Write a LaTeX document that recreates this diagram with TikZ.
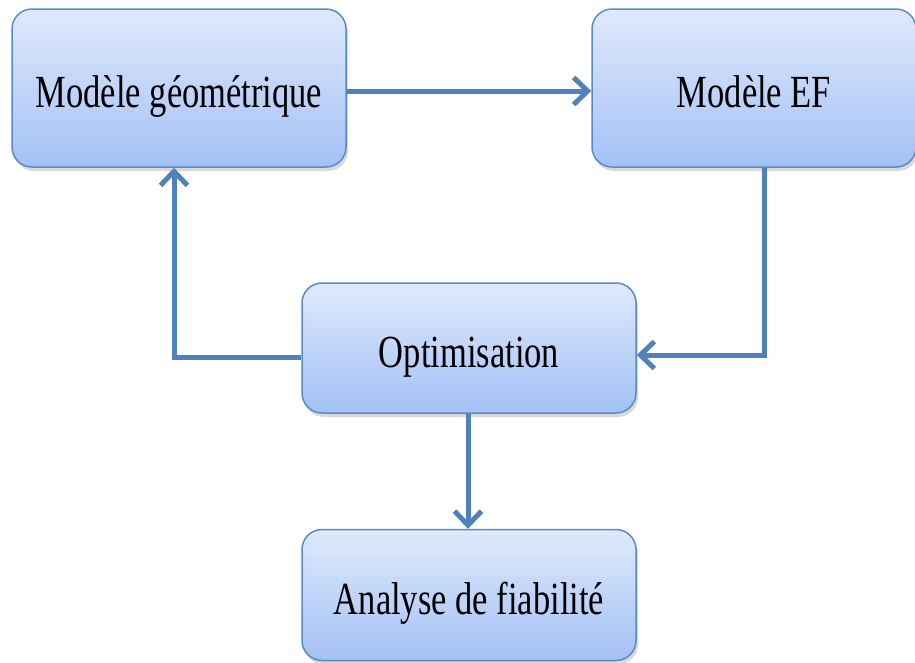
\documentclass[tikz,border=0pt]{standalone}
\usepackage{fontspec}
\newfontfamily\boxfont[FakeStretch=0.75]{Liberation Serif}
\usetikzlibrary{arrows.meta,shadows}
\definecolor{boxtop}{HTML}{DFE9FC}
\definecolor{boxbottom}{HTML}{A3C1F5}
\definecolor{boxline}{HTML}{5B8BC7}
\definecolor{flow}{HTML}{4F81BD}
\tikzset{
  stage/.style={draw=boxline, line width=1.5pt, rounded corners=20pt,
    top color=boxtop, bottom color=boxbottom, inner sep=0pt,
    font=\boxfont\fontsize{46}{50}\selectfont, text=black,
    text height=38pt, text depth=0pt,
    drop shadow={shadow xshift=2pt, shadow yshift=-4pt, opacity=0.25, fill=black!60}},
  flowline/.style={draw=flow, line width=5pt,
    -{Straight Barb[length=14pt, width=27pt, line width=5pt]}},
}
\begin{document}
\begin{tikzpicture}[x=1pt,y=-1pt]
  \useasboundingbox (0,0) rectangle (915,662);
  \node[stage, minimum width=334pt, minimum height=158pt] (geo) at (179,88) {Modèle géométrique};
  \node[stage, minimum width=324pt, minimum height=158pt] (ef) at (754,88) {Modèle EF};
  \node[stage, minimum width=334pt, minimum height=130pt] (opt) at (469,348) {Optimisation};
  \node[stage, minimum width=334pt, minimum height=131pt] (fia) at (469,595) {Analyse de fiabilité};

  \coordinate (efdown) at (764,355);
  \coordinate (optleft) at (174,357);

  \draw[flowline] (geo.east |- 0,91) -- (ef.west |- 0,91);
  \draw[flowline] (ef.south -| efdown) -- (efdown) -- (opt.east |- efdown);
  \draw[flowline] (opt.west |- optleft) -- (optleft) -- (geo.south -| optleft);
  \draw[flowline] (opt.south -| 468,0) -- (fia.north -| 468,0);
\end{tikzpicture}
\end{document}
